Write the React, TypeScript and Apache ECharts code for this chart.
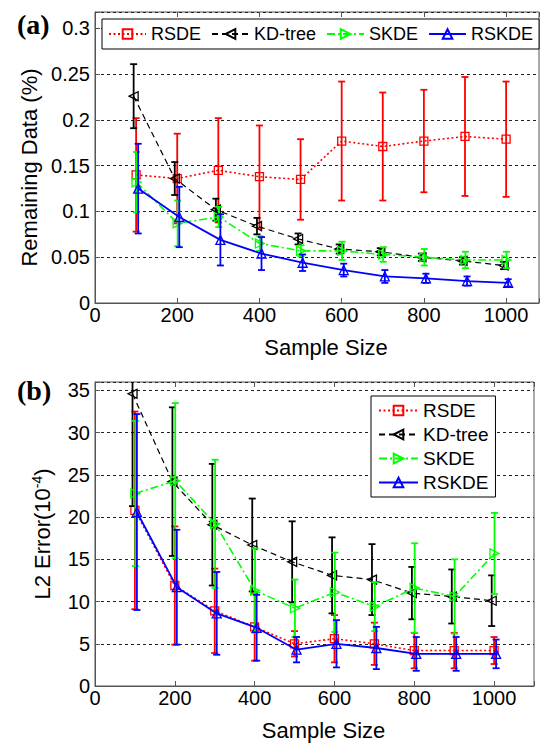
import React, { useEffect, useRef } from "react";
import * as echarts from "echarts";

// ---------- data ----------
const sampleSizes = [100, 200, 300, 400, 500, 600, 700, 800, 900, 1000];
const seriesNames = ["RSDE", "KD-tree", "SKDE", "RSKDE"];

// Panel (a): Remaining Data (%)
const aRSDE = [0.140, 0.136, 0.145, 0.138, 0.135, 0.177, 0.171, 0.177, 0.182, 0.179];
const aRSDEErr = [0.062, 0.049, 0.057, 0.056, 0.044, 0.065, 0.059, 0.056, 0.065, 0.063];
const aKD = [0.226, 0.136, 0.102, 0.084, 0.070, 0.059, 0.056, 0.050, 0.046, 0.041];
const aKDErr = [0.035, 0.018, 0.012, 0.009, 0.006, 0.005, 0.004, 0.004, 0.004, 0.004];
const aSKDE = [0.132, 0.087, 0.094, 0.065, 0.057, 0.057, 0.053, 0.050, 0.047, 0.047];
const aSKDEErr = [0.033, 0.025, 0.011, 0.008, 0.006, 0.010, 0.008, 0.009, 0.009, 0.009];
const aRSKDE = [0.125, 0.094, 0.069, 0.054, 0.044, 0.036, 0.029, 0.027, 0.024, 0.022];
const aRSKDEErr = [0.049, 0.033, 0.028, 0.018, 0.009, 0.007, 0.007, 0.005, 0.005, 0.004];

// Panel (b): L2 Error (10^-4)
const bRSDE = [20.8, 11.9, 8.9, 7.0, 5.0, 5.6, 5.0, 4.2, 4.2, 4.2];
const bRSDEErr = [11.7, 7.0, 5.0, 4.0, 1.5, 2.8, 2.5, 2.1, 2.1, 1.6];
const bKD = [34.6, 24.2, 19.1, 16.7, 14.7, 13.1, 12.6, 11.0, 10.6, 10.1];
const bKDErr = [13.3, 8.8, 7.2, 5.5, 4.8, 4.5, 4.2, 3.1, 3.2, 3.0];
const bSKDE = [22.8, 24.3, 19.2, 11.3, 9.2, 11.1, 9.4, 11.6, 10.6, 15.7];
const bSKDEErr = [8.6, 9.2, 7.6, 5.0, 3.4, 4.7, 2.9, 5.3, 4.4, 4.8];
const bRSKDE = [20.6, 11.7, 8.6, 6.9, 4.3, 5.0, 4.5, 3.8, 3.8, 3.8];
const bRSKDEErr = [11.6, 6.8, 4.9, 3.9, 1.5, 2.8, 2.5, 2.0, 2.0, 1.7];

// small horizontal jitter (in sample-size units) used by the original plot
const xJitter = [0, -6, 1, 5];

// ---------- styles ----------
const FONT = "Liberation Sans";
const styles = [
  { color: "#ff0000", dash: [2, 2.5], width: 1.6, symbol: "rect", rotate: 0 },
  { color: "#000000", dash: [6, 4], width: 1.2, symbol: "triangle", rotate: 90 },
  { color: "#00ff00", dash: [8, 3, 2, 3], width: 1.6, symbol: "triangle", rotate: -90 },
  { color: "#0000ff", dash: "solid" as any, width: 1.8, symbol: "triangle", rotate: 0 },
];

function errorBar(color: string, yMax: number) {
  return (params: any, api: any) => {
    const x = api.value(0);
    const lo = Math.max(0, api.value(1));
    const hi = api.value(2);
    const top = Math.min(hi, yMax);
    const pB = api.coord([x, lo]);
    const pT = api.coord([x, top]);
    const w = 3.5;
    const style = { stroke: color, lineWidth: 1.8 };
    const children: any[] = [
      { type: "line", shape: { x1: pB[0], y1: pB[1], x2: pT[0], y2: pT[1] }, style },
      { type: "line", shape: { x1: pB[0] - w, y1: pB[1], x2: pB[0] + w, y2: pB[1] }, style },
    ];
    if (hi <= yMax) {
      children.push({ type: "line", shape: { x1: pT[0] - w, y1: pT[1], x2: pT[0] + w, y2: pT[1] }, style });
    }
    return { type: "group", children };
  };
}

function panelSeries(
  vals: number[][],
  errs: number[][],
  xAxisIndex: number,
  yAxisIndex: number,
  yMax: number
) {
  const out: any[] = [];
  vals.forEach((v, k) => {
    const st = styles[k];
    out.push({
      type: "custom",
      name: seriesNames[k] + "-err",
      xAxisIndex,
      yAxisIndex,
      renderItem: errorBar(st.color, yMax),
      encode: { x: 0, y: [1, 2] },
      data: sampleSizes.map((s, i) => [s + xJitter[k], v[i] - errs[k][i], v[i] + errs[k][i]]),
      z: 2 + k * 2,
      silent: true,
    });
    out.push({
      type: "line",
      name: seriesNames[k],
      xAxisIndex,
      yAxisIndex,
      data: sampleSizes.map((s, i) => [s + xJitter[k], v[i]]),
      symbol: st.symbol,
      symbolRotate: st.rotate,
      symbolSize: st.symbol === "rect" ? 8 : 9,
      showAllSymbol: true,
      lineStyle: { color: st.color, width: st.width, type: st.dash },
      itemStyle: { color: "rgba(255,255,255,0)", borderColor: st.color, borderWidth: 1.3 },
      z: 3 + k * 2,
    });
  });
  return out;
}

function fmtStep(step: number) {
  return (v: number) => {
    const q = v / step;
    if (Math.abs(q - Math.round(q)) > 1e-6) return "";
    return String(Math.round(v * 100) / 100);
  };
}

const axisLabelStyle = { color: "#000", fontSize: 20, fontFamily: FONT };

export default function App() {
  const ref = useRef<HTMLDivElement>(null);
  useEffect(() => {
    if (!ref.current) return;
    const chart = echarts.init(ref.current, undefined, { renderer: "svg" });
    const aMaxX = 1080, aMaxY = 0.318, bMaxX = 1100, bMaxY = 36;
    const xBase = (gridIndex: number, max: number) => ({
      type: "value",
      gridIndex,
      min: 0,
      max,
      interval: 200,
      position: "bottom",
      axisLine: { show: true, lineStyle: { color: "#555", width: 1 } },
      axisTick: { show: true, inside: true, length: 5, lineStyle: { color: "#555" } },
      axisLabel: { ...axisLabelStyle, margin: 2, formatter: fmtStep(200) },
      splitLine: { show: false },
      name: "Sample Size",
      nameLocation: "middle",
      nameGap: 33,
      nameTextStyle: { color: "#000", fontSize: 22, fontFamily: FONT, padding: [0, 0, 0, 18] },
    });
    const xTop = (gridIndex: number, max: number) => ({
      type: "value",
      gridIndex,
      min: 0,
      max,
      interval: 200,
      position: "top",
      axisLine: { show: false },
      axisTick: { show: true, inside: true, length: 5, lineStyle: { color: "#555" } },
      axisLabel: { show: false },
      splitLine: { show: false },
    });
    const gridLine = { show: true, lineStyle: { color: "#222", type: [3, 3], width: 1 } };
    const option: any = {
      animation: false,
      textStyle: { fontFamily: FONT },
      grid: [
        { left: 95, top: 12, width: 444, height: 291, show: true, borderColor: "#555", borderWidth: 1, backgroundColor: "#fff" },
        { left: 95, top: 382, width: 439, height: 304, show: true, borderColor: "#555", borderWidth: 1, backgroundColor: "#fff" },
      ],
      xAxis: [xBase(0, aMaxX), xTop(0, aMaxX), xBase(1, bMaxX), xTop(1, bMaxX)],
      yAxis: [
        {
          type: "value",
          gridIndex: 0,
          min: 0,
          max: aMaxY,
          interval: 0.05,
          axisLine: { show: true, lineStyle: { color: "#555" } },
          axisTick: { show: true, inside: true, length: 5 },
          axisLabel: { ...axisLabelStyle, margin: 5, formatter: fmtStep(0.05) },
          splitLine: gridLine,
          name: "Remaining Data (%)",
          nameLocation: "middle",
          nameGap: 50,
          nameTextStyle: { color: "#000", fontSize: 22, fontFamily: FONT, padding: [0, 20, 0, 0] },
        },
        {
          type: "value",
          gridIndex: 1,
          min: 0,
          max: bMaxY,
          interval: 5,
          axisLine: { show: true, lineStyle: { color: "#555" } },
          axisTick: { show: true, inside: true, length: 5 },
          axisLabel: { ...axisLabelStyle, margin: 5, formatter: fmtStep(5) },
          splitLine: gridLine,
          name: "L2 Error(10{sup|-4})",
          nameLocation: "middle",
          nameGap: 41,
          nameTextStyle: {
            color: "#000",
            fontSize: 22,
            fontFamily: FONT,
            rich: { sup: { fontSize: 14, fontFamily: FONT, color: "#000", verticalAlign: "top", padding: [0, 0, 10, 0] } },
          },
        },
      ],
      legend: [
        {
          data: seriesNames,
          orient: "horizontal",
          left: 102,
          top: 19,
          width: 600,
          padding: [6, 6],
          itemGap: 10,
          itemWidth: 37,
          itemHeight: 12,
          borderColor: "#000",
          borderWidth: 1,
          backgroundColor: "#fff",
          borderRadius: 0,
          textStyle: { color: "#000", fontSize: 18, fontFamily: FONT },
          selectedMode: false,
        },
        {
          data: seriesNames,
          orient: "vertical",
          left: 371,
          top: 396,
          padding: [5, 7],
          itemGap: 5,
          itemWidth: 39,
          itemHeight: 12,
          borderColor: "#000",
          borderWidth: 1,
          backgroundColor: "#fff",
          borderRadius: 0,
          textStyle: { color: "#000", fontSize: 19, fontFamily: FONT },
          selectedMode: false,
        },
      ],
      graphic: [
        { type: "text", left: 17, top: 10, style: { text: "(a)", font: 'bold 28px "Liberation Serif"', fill: "#000" } },
        { type: "text", left: 17, top: 376, style: { text: "(b)", font: 'bold 28px "Liberation Serif"', fill: "#000" } },
      ],
      series: [
        ...panelSeries([aRSDE, aKD, aSKDE, aRSKDE], [aRSDEErr, aKDErr, aSKDEErr, aRSKDEErr], 0, 0, aMaxY),
        ...panelSeries([bRSDE, bKD, bSKDE, bRSKDE], [bRSDEErr, bKDErr, bSKDEErr, bRSKDEErr], 2, 1, bMaxY),
      ],
    };
    chart.setOption(option);
    return () => chart.dispose();
  }, []);
  return (
    <div
      ref={ref}
      style={{ position: "absolute", left: 0, top: 0, width: 542, height: 743, background: "#fff" }}
    />
  );
}
